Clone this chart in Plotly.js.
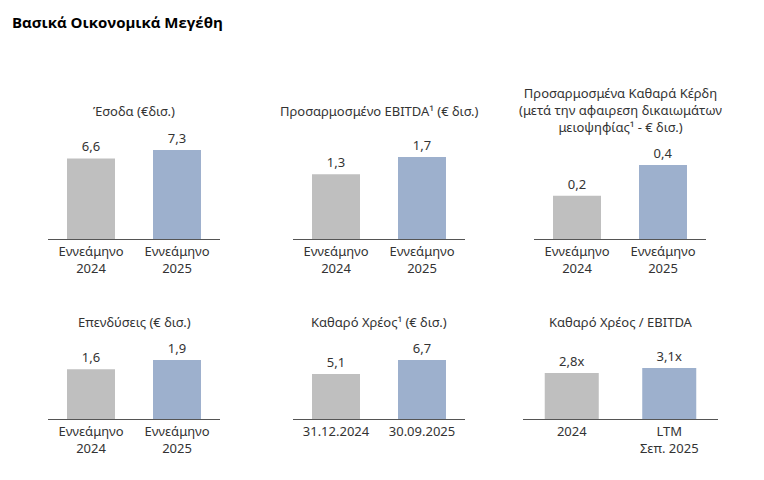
<!DOCTYPE html>
<html>
<head>
<meta charset="utf-8">
<script src="https://cdn.plot.ly/plotly-3.0.1.min.js"></script>
<style>html,body{margin:0;padding:0;background:#fff;}#chart{width:764px;height:480px;}</style>
</head>
<body>
<div id="chart"></div>
<script>
// ---- data ----
const mainTitle = 'Βασικά Οικονομικά Μεγέθη';
const panelTitles = [
  'Έσοδα (€δισ.)',
  'Προσαρμοσμένο EBITDA¹ (€ δισ.)',
  'Προσαρμοσμένα Καθαρά Κέρδη<br>(μετά την αφαιρεση δικαιωμάτων<br>μειοψηφίας¹ - € δισ.)',
  'Επενδύσεις (€ δισ.)',
  'Καθαρό Χρέος¹ (€ δισ.)',
  'Καθαρό Χρέος / EBITDA'
];
const catNine = ['Εννεάμηνο<br>2024', 'Εννεάμηνο<br>2025'];
const catDebt = ['31.12.2024', '30.09.2025'];
const catRatio = ['2024', 'LTM<br>Σεπ. 2025'];
const revenue = [6.6, 7.3];
const ebitda = [1.34, 1.70];
const netProfit = [0.24, 0.41];
const capex = [1.6, 1.9];
const netDebt = [5.1, 6.7];
const debtToEbitda = [2.8, 3.1];
const suffixes = ['', '', '', '', '', 'x'];

// ---- layout ----
const W = 764, H = 480;
const barColors = ['#bfbfbf', '#9db0cd'];
const textColor = '#333333';
const fontFamily = 'Noto Sans, Open Sans, sans-serif';

const panels = [
  {cats: catNine,  vals: revenue,      x0: 48,  x1: 220, top: 130, base: 239, range: 8.93,  titleY: 111, bw: 0.558},
  {cats: catNine,  vals: ebitda,       x0: 293, x1: 465, top: 130, base: 239, range: 2.26,  titleY: 111, bw: 0.558},
  {cats: catNine,  vals: netProfit,    x0: 534, x1: 706, top: 130, base: 239, range: 0.604, titleY: 110, bw: 0.558},
  {cats: catNine,  vals: capex,        x0: 48,  x1: 220, top: 310, base: 419, range: 3.51,  titleY: 322, bw: 0.558},
  {cats: catDebt,  vals: netDebt,      x0: 293, x1: 465, top: 310, base: 419, range: 12.37, titleY: 322, bw: 0.558},
  {cats: catRatio, vals: debtToEbitda, x0: 523, x1: 718, top: 310, base: 419, range: 6.63,  titleY: 322, bw: 0.554}
];

const traces = [];
const layout = {
  width: W, height: H,
  margin: {l: 0, r: 0, t: 0, b: 0},
  paper_bgcolor: '#ffffff',
  plot_bgcolor: '#ffffff',
  showlegend: false,
  separators: ',.',
  font: {family: fontFamily, color: textColor, size: 13},
  annotations: [{
    text: '<b>' + mainTitle + '</b>',
    xref: 'paper', yref: 'paper',
    x: 10 / W, y: 1 - 22 / H,
    xanchor: 'left', yanchor: 'middle',
    showarrow: false,
    font: {family: 'Open Sans, sans-serif', size: 15, color: '#000000'}
  }]
};

panels.forEach((p, i) => {
  const n = i + 1;
  const xa = n === 1 ? 'x' : 'x' + n;
  const ya = n === 1 ? 'y' : 'y' + n;
  traces.push({
    type: 'bar',
    x: p.cats,
    y: p.vals,
    xaxis: xa, yaxis: ya,
    width: p.bw,
    marker: {color: barColors},
    texttemplate: '%{y:.1f}' + suffixes[i],
    textposition: 'outside',
    cliponaxis: false,
    textfont: {family: fontFamily, size: 13, color: textColor},
    hoverinfo: 'skip'
  });
  layout['xaxis' + (n === 1 ? '' : n)] = {
    domain: [p.x0 / W, p.x1 / W],
    anchor: ya,
    type: 'category',
    showline: true, linecolor: '#555555', linewidth: 1,
    showgrid: false, zeroline: false,
    ticks: '',
    tickfont: {family: fontFamily, size: 13, color: textColor},
    fixedrange: true
  };
  layout['yaxis' + (n === 1 ? '' : n)] = {
    domain: [1 - p.base / H, 1 - p.top / H],
    anchor: xa,
    range: [0, p.range],
    visible: false,
    showgrid: false, zeroline: false,
    fixedrange: true
  };
  layout.annotations.push({
    text: panelTitles[i],
    xref: 'paper', yref: 'paper',
    x: (p.x0 + p.x1) / 2 / W, y: 1 - p.titleY / H,
    xanchor: 'center', yanchor: 'middle',
    showarrow: false,
    font: {family: fontFamily, size: 13, color: textColor}
  });
});

Plotly.newPlot('chart', traces, layout, {displayModeBar: false, staticPlot: true});
</script>
</body>
</html>
